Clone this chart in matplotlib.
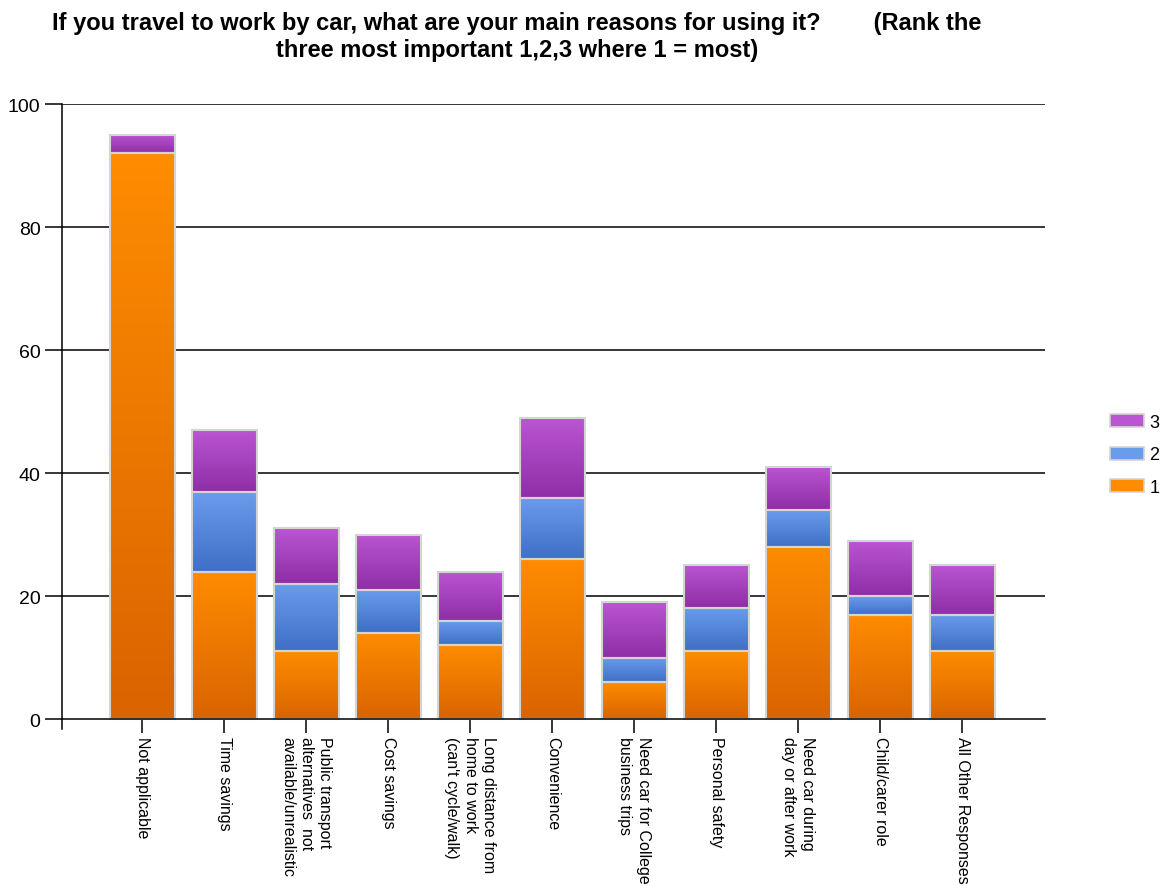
import matplotlib
matplotlib.use('Agg')
import matplotlib.pyplot as plt
import numpy as np
from matplotlib.colors import LinearSegmentedColormap
from matplotlib.patches import Patch

plt.rcParams['font.family'] = ['Liberation Sans', 'DejaVu Sans']

categories = [
    "Not applicable",
    "Time savings",
    "Public transport\nalternatives  not\navailable/unrealistic",
    "Cost savings",
    "Long distance from\nhome to work\n(can't cycle/walk)",
    "Convenience",
    "Need car for College\nbusiness trips",
    "Personal safety",
    "Need car during\nday or after work",
    "Child/carer role",
    "All Other Responses",
]
rank1 = [92, 24, 11, 14, 12, 26, 6, 11, 28, 17, 11]
rank2 = [0, 13, 11, 7, 4, 10, 4, 7, 6, 3, 6]
rank3 = [3, 10, 9, 9, 8, 13, 9, 7, 7, 9, 8]
series_names = ["1", "2", "3"]

# top/bottom colours of each series' vertical gradient
grad = {
    "1": ("#ff8c00", "#d96400"),
    "2": ("#6a9cec", "#3f6fc6"),
    "3": ("#bb55d2", "#8e2ea6"),
}

fig = plt.figure(figsize=(11.67, 8.87), dpi=100)
ax = fig.add_axes([0.0531, 0.177, 0.8424, 0.7046])

x = np.arange(len(categories))
width = 0.79
bottom = np.zeros(len(categories))
grad_img = np.linspace(1, 0, 256).reshape(-1, 1)
for name, vals in zip(series_names, [rank1, rank2, rank3]):
    vals = np.array(vals, dtype=float)
    top_c, bot_c = grad[name]
    cmap = LinearSegmentedColormap.from_list("g" + name, [bot_c, top_c])
    bars = ax.bar(x, vals, width, bottom=bottom, color='none',
                  edgecolor='#d4d4d4', linewidth=1.5, zorder=3)
    for b in bars:
        if b.get_height() <= 0:
            continue
        x0, y0 = b.get_x(), b.get_y()
        ax.imshow(grad_img, cmap=cmap, aspect='auto', interpolation='bilinear',
                  extent=(x0, x0 + b.get_width(), y0, y0 + b.get_height()),
                  zorder=2)
    bottom += vals

ax.set_xlim(-0.98, 11.01)
ax.set_ylim(-1.6, 100)
ax.set_yticks([0, 20, 40, 60, 80, 100])
for v in [20, 40, 60, 80, 100]:
    ax.axhline(v, color='black', linewidth=1.1, zorder=1)

for s in ['top', 'right']:
    ax.spines[s].set_visible(False)
ax.spines['bottom'].set_position(('data', 0))
ax.spines['bottom'].set_zorder(4)
ax.spines['left'].set_linewidth(1.1)
ax.spines['bottom'].set_linewidth(1.1)

ax.set_xticks(x)
labels = ax.set_xticklabels(categories, rotation=-90, ha='center', va='top',
                            multialignment='left', fontsize=11.5)
for t in labels:
    t.set_linespacing(1.3)
ax.tick_params(axis='x', direction='out', length=10, width=1.1, pad=2)
ax.tick_params(axis='y', direction='out', length=12, width=1.1, labelsize=14,
               colors='black')

fig.suptitle("If you travel to work by car, what are your main reasons for using it?        (Rank the\n"
             "three most important 1,2,3 where 1 = most)",
             x=0.443, y=0.986, fontsize=17, fontweight='bold', va='top',
             linespacing=1.2)

handles = [Patch(facecolor=grad[n][0], edgecolor='#d4d4d4', linewidth=1.2)
           for n in reversed(series_names)]
fig.legend(handles, list(reversed(series_names)), loc='center left',
           bbox_to_anchor=(0.951, 0.486), frameon=False, fontsize=13,
           handlelength=1.9, handleheight=0.72, labelspacing=0.85,
           handletextpad=0.3, borderpad=0, borderaxespad=0)

fig.savefig('out.png', dpi=100)
